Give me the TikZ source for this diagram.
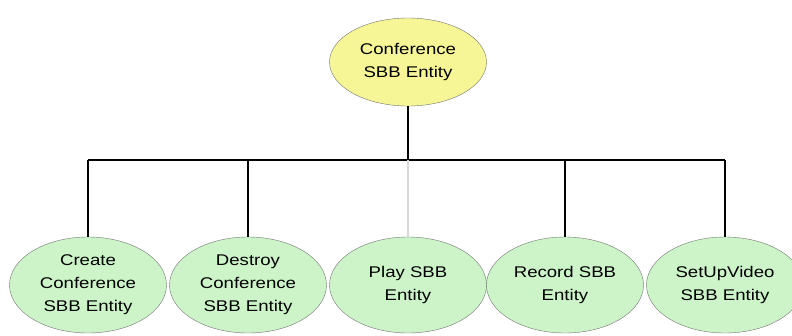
\documentclass[tikz,border=0pt]{standalone}
\usepackage{fontspec}
\setmainfont{Liberation Sans}[FakeStretch=1.2]
\usetikzlibrary{shapes.geometric}

\definecolor{sbbyellow}{RGB}{246,246,150}
\definecolor{sbbgreen}{RGB}{204,244,200}

\tikzset{
	sbb/.style={ellipse,draw=black!55,thin,align=center,inner sep=0pt,
		minimum width=157pt,font=\fontsize{15.5}{23}\selectfont},
	conn/.style={line width=1.4pt,black},
}

\begin{document}
\begin{tikzpicture}[x=1pt,y=-1pt]
				\useasboundingbox (0,0) rectangle (792,335);
				\coordinate (T) at (408,62);
				\coordinate (busL) at (88,160);
				\coordinate (busR) at (725,160);
				
				\node[sbb,fill=sbbyellow,minimum height=88pt] (conf) at (T) {Conference\\SBB Entity};
				
				\node[sbb,fill=sbbgreen,minimum height=96pt] (create) at (88,285) {Create\\Conference\\SBB Entity};
				\node[sbb,fill=sbbgreen,minimum height=96pt] (destroy) at (248,285) {Destroy\\Conference\\SBB Entity};
				\node[sbb,fill=sbbgreen,minimum height=96pt] (play) at (408,285) {Play SBB\\Entity};
				\node[sbb,fill=sbbgreen,minimum height=96pt] (record) at (565,285) {Record SBB\\Entity};
				\node[sbb,fill=sbbgreen,minimum height=96pt] (setup) at (725,285) {SetUpVideo\\SBB Entity};
				
				\draw[conn] (busL) -- (busR);
				\draw[conn] (conf.south) -- (conf.south |- busL);
				\draw[conn] (create.north) -- (create.north |- busL);
				\draw[conn] (destroy.north) -- (destroy.north |- busL);
				\draw[conn,black!15] (play.north) -- (play.north |- busL);
				\draw[conn] (record.north) -- (record.north |- busL);
				\draw[conn] (setup.north) -- (setup.north |- busL);
			\end{tikzpicture}
\end{document}
